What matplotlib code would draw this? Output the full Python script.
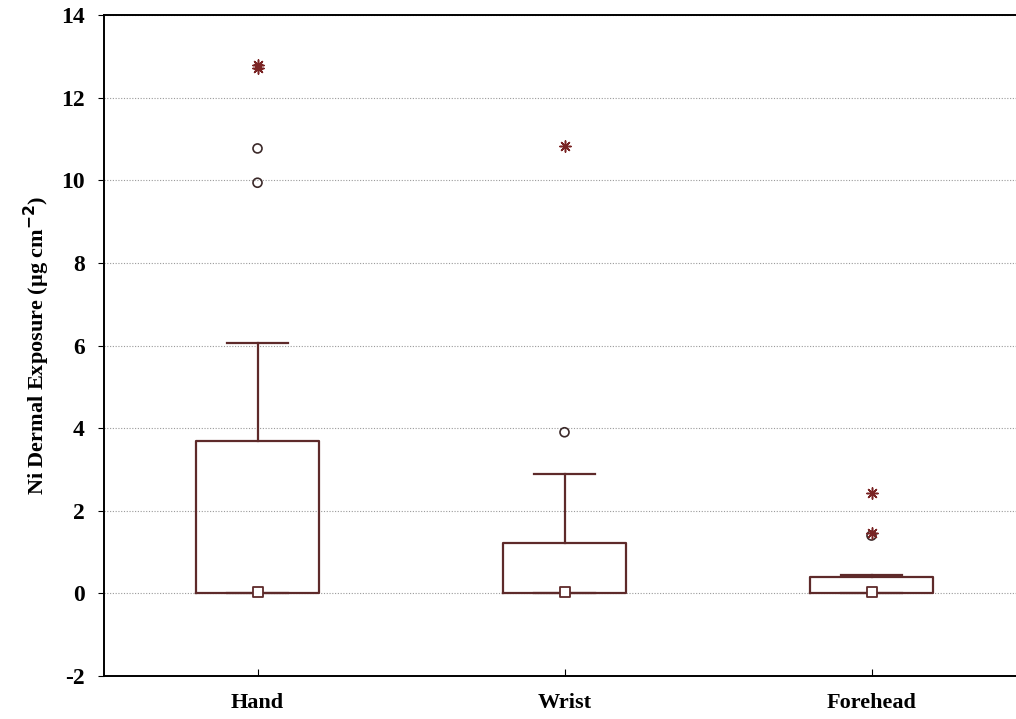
import matplotlib
matplotlib.use('Agg')
import matplotlib.pyplot as plt

# datos
categorias = ['Hand', 'Wrist', 'Forehead']
mediana = [0.03, 0.03, 0.03]
q1 = [0.0, 0.0, 0.0]
q3 = [3.68, 1.23, 0.40]
bigote_inf = [0.0, 0.0, 0.0]
bigote_sup = [6.06, 2.90, 0.45]
atipicos = [[10.77, 9.94], [3.90], [1.40]]
extremos = [[12.72, 12.80], [10.84], [2.44, 1.46]]

color_caja = '#5e2a2a'
color_punto = '#3c2a2a'
color_ext = '#7a2424'

plt.rcParams['font.family'] = 'Liberation Serif'
plt.rcParams['font.weight'] = 'bold'
plt.rcParams['axes.unicode_minus'] = False

fig = plt.figure(figsize=(10.16, 7.19), dpi=100)
ax = fig.add_axes([104/1016, 1 - 676/719, 921/1016, 661/719])

stats = []
for i in range(len(categorias)):
    stats.append({'med': mediana[i], 'q1': q1[i], 'q3': q3[i],
                  'whislo': bigote_inf[i], 'whishi': bigote_sup[i],
                  'fliers': [], 'label': categorias[i]})

pos = list(range(len(categorias)))
ax.bxp(stats, positions=pos, widths=0.40, showfliers=False,
       boxprops=dict(color=color_caja, linewidth=1.6),
       whiskerprops=dict(color=color_caja, linewidth=1.6),
       capprops=dict(color=color_caja, linewidth=1.6),
       medianprops=dict(linewidth=0), capwidths=0.2)

# mediana como cuadrado
ax.scatter(pos, mediana, marker='s', s=50, facecolors='white',
           edgecolors=color_caja, linewidths=1.3, zorder=5)

for i in range(len(categorias)):
    ax.scatter([i] * len(atipicos[i]), atipicos[i], marker='o', s=42,
               facecolors='none', edgecolors=color_punto, linewidths=1.2, zorder=5)
    ax.scatter([i] * len(extremos[i]), extremos[i], marker=(8, 2, 0), s=65,
               color=color_ext, linewidths=1.1, zorder=6)

ax.set_xlim(-0.5, 2.5)
ax.set_ylim(-2, 14)
ax.set_yticks(range(-2, 15, 2))
ax.set_xticks(pos)
ax.set_xticklabels(categorias)
ax.yaxis.grid(True, linestyle=(0, (1, 1.5)), color='#9a9a9a', linewidth=0.8)
ax.set_axisbelow(True)
ax.tick_params(axis='x', direction='in', length=5, labelsize=16, pad=12)
ax.tick_params(axis='y', direction='out', length=4, labelsize=17, pad=10)
for s in ax.spines.values():
    s.set_linewidth(1.4)
ax.set_ylabel('Ni Dermal Exposure (µg cm$^{\\mathbf{-2}}$)', fontsize=16,
              fontweight='bold', labelpad=6)

fig.savefig('out.png', dpi=100)
